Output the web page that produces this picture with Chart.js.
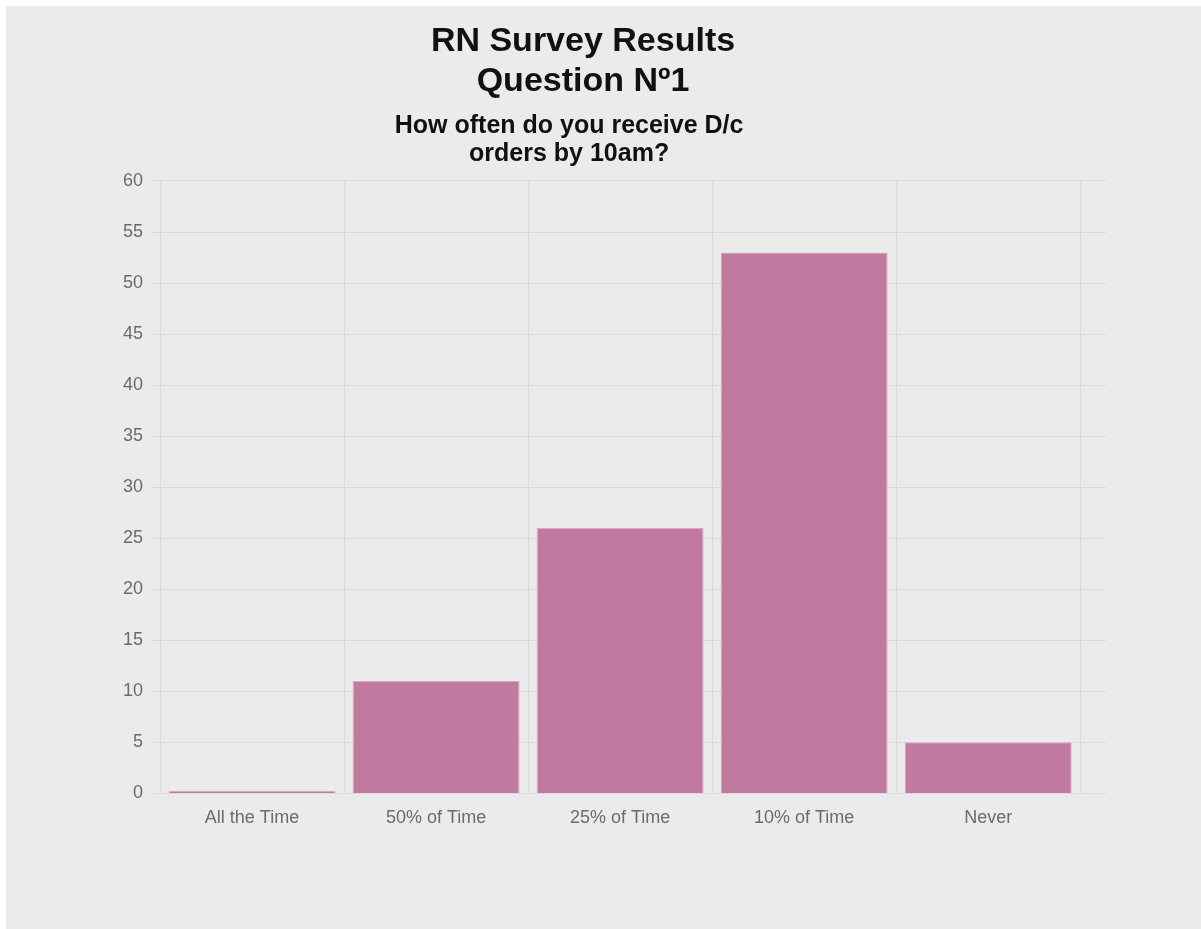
<!DOCTYPE html>
<html>
<head>
<meta charset="utf-8">
<script src="https://cdn.jsdelivr.net/npm/chart.js@4.4.1/dist/chart.umd.min.js"></script>
<style>
  body { margin: 0; background: #ffffff; }
  #wrap {
    position: absolute; left: 6px; top: 6px; width: 1195px; height: 923px;
    background: #ebebeb;
  }
</style>
</head>
<body>
<div id="wrap"><canvas id="chart"></canvas></div>
<script>
const categories = ['All the Time', '50% of Time', '25% of Time', '10% of Time', 'Never'];
const responses = [0.25, 11, 26, 53, 5];
const titleLines = ['RN Survey Results', 'Question N\u00BA1'];
// trailing spaces nudge the subtitle a little left, like the original
const subtitleLines = ['How often do you receive D/c    ', 'orders by 10am?    '];

const tickFont = { family: "'Liberation Sans', Arial, sans-serif", size: 18 };
const gridColor = '#dbdbdb';

const ctx = document.getElementById('chart').getContext('2d');

const chart = new Chart(ctx, {
    type: 'bar',
    data: {
        datasets: [{
            label: 'Responses',
            data: categories.map((c, i) => ({ x: i, y: responses[i] })),
            backgroundColor: '#c17a9f',
            borderColor: '#dfa6c3',
            borderWidth: 1,
            barPercentage: 0.907,
            categoryPercentage: 1
        }]
    },
    options: {
        responsive: true,
        maintainAspectRatio: false,
        animation: false,
        layout: { padding: { left: 54, right: 95, top: 0, bottom: 86 } },
        plugins: {
            legend: { display: false },
            tooltip: { enabled: false },
            title: {
                display: true,
                text: titleLines,
                color: '#111111',
                font: { family: "'Liberation Sans', Arial, sans-serif", size: 34, weight: 'bold', lineHeight: 1.176 },
                padding: { top: 16, bottom: 0 }
            },
            subtitle: {
                display: true,
                text: subtitleLines,
                color: '#111111',
                font: { family: "'Liberation Sans', Arial, sans-serif", size: 25, weight: 'bold', lineHeight: 1.12 },
                padding: { top: 10, bottom: 13 }
            }
        },
        scales: {
            x: {
                type: 'linear',
                min: -0.5,
                max: 4.64,
                offset: false,
                afterBuildTicks: (scale) => {
                    scale.ticks = categories.map((c, i) => ({ value: i }));
                },
                ticks: {
                    font: tickFont,
                    color: '#6b6b6b',
                    padding: 14,
                    maxRotation: 0,
                    autoSkip: false,
                    callback: (value) => categories[value]
                },
                grid: { color: gridColor, offset: true, drawTicks: false },
                border: { display: false }
            },
            y: {
                min: 0,
                max: 60,
                afterFit: (scale) => { scale.width = 100; },
                ticks: {
                    stepSize: 5,
                    font: tickFont,
                    color: '#6b6b6b',
                    padding: 9
                },
                grid: { color: gridColor, tickLength: 8 },
                border: { display: false }
            }
        }
    }
});
</script>
</body>
</html>
